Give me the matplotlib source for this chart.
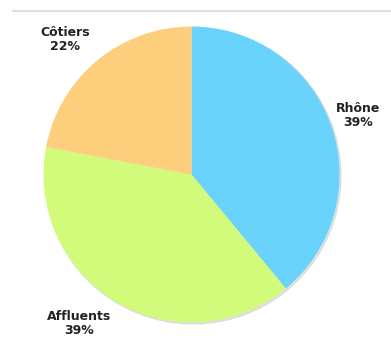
import matplotlib.pyplot as plt
import numpy as np

labels = ["Rhône", "Affluents", "Côtiers"]
shares = [39, 39, 22]
colors = ["#69D3FB", "#D2FA7B", "#FDCF7D"]

# label anchor points in pixel space (x, y from top-left)
label_pos = [(358, 116), (79, 324), (65, 40)]

W, H = 391, 344
fig = plt.figure(figsize=(W / 100, H / 100), dpi=100)
ax = fig.add_axes([0, 0, 1, 1])

cx, cy, r = 191.5, 174.5, 148

# faint drop shadow behind the pie
shadow = plt.Circle((cx + 1.5, cy + 1.5), r, color="#d0d0d0", alpha=0.6, zorder=0)
ax.add_patch(shadow)

# y axis is flipped, so angles run clockwise; start at the top
ax.pie(shares, colors=colors, startangle=-90, counterclock=True,
       center=(cx, cy), radius=r, frame=True,
       wedgeprops=dict(linewidth=0, edgecolor="none"))
ax.set_xlim(0, W)
ax.set_ylim(H, 0)
ax.axis("off")

for name, val, (lx, ly) in zip(labels, shares, label_pos):
    ax.text(lx, ly, f"{name}\n{val}%", ha="center", va="center",
            fontsize=9, fontweight="bold", color="#222222", linespacing=1.1)

# thin rule along the top
ax.plot([12, W], [11, 11], color="#dedede", lw=1.5, solid_capstyle="butt")

fig.savefig("out.png", dpi=100)
